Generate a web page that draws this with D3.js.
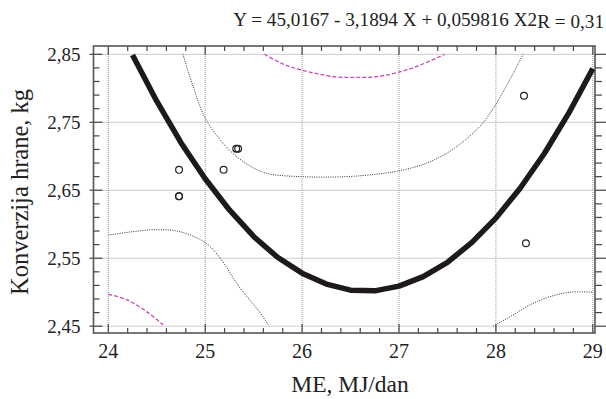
<!DOCTYPE html>
<html><head><meta charset="utf-8">
<script src="https://cdn.jsdelivr.net/npm/d3@7"></script>
</head>
<body style="margin:0"><svg id="c" width="606" height="399"></svg>
<script>
// ---- data ----
const xTicks = [24, 25, 26, 27, 28, 29];
const yTicks = [2.45, 2.55, 2.65, 2.75, 2.85];
const yTickLabels = ["2,45", "2,55", "2,65", "2,75", "2,85"];
const titleMain = "Y = 45,0167 - 3,1894 X + 0,059816 X2";
const titleR = "R = 0,31";
const xLabel = "ME, MJ/dan";
const yLabel = "Konverzija hrane, kg";

const pointsX = [24.73, 24.73, 24.73, 25.19, 25.32, 25.34, 28.29, 28.31];
const pointsY = [2.680, 2.641, 2.641, 2.680, 2.711, 2.711, 2.789, 2.572];

const fitX = [24.25, 24.5, 24.75, 25, 25.25, 25.5, 25.75, 26, 26.25, 26.5, 26.75, 27, 27.25, 27.5, 27.75, 28, 28.25, 28.5, 28.75, 29];
const fitY = [2.849, 2.781, 2.720, 2.667, 2.621, 2.582, 2.551, 2.528, 2.512, 2.503, 2.502, 2.509, 2.523, 2.544, 2.573, 2.609, 2.653, 2.704, 2.763, 2.829];

const confUpX = [24.77, 24.87, 25.0, 25.15, 25.28, 25.46, 25.63, 25.99, 26.45, 26.79, 26.98, 27.27, 27.51, 27.7, 27.86, 27.98, 28.16, 28.28];
const confUpY = [2.850, 2.805, 2.756, 2.725, 2.705, 2.686, 2.675, 2.670, 2.670, 2.674, 2.678, 2.689, 2.706, 2.726, 2.748, 2.772, 2.817, 2.850];
const confLoLeftX = [24.0, 24.25, 24.5, 24.74, 25.0, 25.15, 25.35, 25.56, 25.66];
const confLoLeftY = [2.584, 2.589, 2.592, 2.589, 2.573, 2.551, 2.508, 2.471, 2.450];
const confLoRightX = [27.97, 28.16, 28.36, 28.57, 28.77, 29.0];
const confLoRightY = [2.450, 2.465, 2.482, 2.494, 2.500, 2.500];

const predUpX = [25.61, 25.8, 25.99, 26.33, 26.55, 26.76, 26.98, 27.2, 27.47];
const predUpY = [2.850, 2.836, 2.827, 2.817, 2.816, 2.817, 2.823, 2.833, 2.850];
const predLoX = [24.0, 24.19, 24.41, 24.565];
const predLoY = [2.497, 2.489, 2.470, 2.452];

// ---- layout ----
const FONT = '"Liberation Serif"';
const svg = d3.select("#c");
const x = d3.scaleLinear().domain([24, 29]).range([108.3, 592.8]);
const y = d3.scaleLinear().domain([2.45, 2.85]).range([326.2, 54.3]);
const fL = 93.5, fR = 595, fT = 46, fB = 333;

// grid
const g = svg.append("g");
g.selectAll(".gx").data(xTicks).join("line")
  .attr("x1", d => x(d)).attr("x2", d => x(d)).attr("y1", fT).attr("y2", fB)
  .attr("stroke", "#999").attr("stroke-width", 1).attr("stroke-dasharray", "1,1");
g.selectAll(".gy").data(yTicks).join("line")
  .attr("x1", fL).attr("x2", fR).attr("y1", d => y(d)).attr("y2", d => y(d))
  .attr("stroke", "#999").attr("stroke-width", 1).attr("stroke-dasharray", "1,1");

// minor ticks
const xMinor = d3.range(0, 26).map(i => 24 + i * 0.2);
const yMinor = d3.range(0, 21).map(i => 2.45 + i * 0.02);
const tk = svg.append("g").attr("stroke", "#444").attr("stroke-width", 1.2);
xMinor.forEach(v => {
  const major = Math.abs(v - Math.round(v)) < 1e-6;
  tk.append("line").attr("x1", x(v)).attr("x2", x(v)).attr("y1", fB).attr("y2", fB - (major ? 9 : 5));
  tk.append("line").attr("x1", x(v)).attr("x2", x(v)).attr("y1", fT).attr("y2", fT + (major ? 9 : 5));
});
yMinor.forEach(v => {
  const major = Math.abs(v * 10 - 0.5 - Math.round(v * 10 - 0.5)) < 1e-6;
  tk.append("line").attr("x1", fL - (major ? 4 : 0)).attr("x2", fL + (major ? 9 : 6)).attr("y1", y(v)).attr("y2", y(v));
  tk.append("line").attr("x1", fR).attr("x2", fR + (major ? 11 : 7)).attr("y1", y(v)).attr("y2", y(v));
});

// frame
svg.append("rect").attr("x", fL).attr("y", fT).attr("width", fR - fL).attr("height", fB - fT)
  .attr("fill", "none").attr("stroke", "#555").attr("stroke-width", 1.6);

// tick labels
svg.append("g").selectAll("text").data(xTicks).join("text")
  .attr("x", d => x(d)).attr("y", 358).attr("text-anchor", "middle")
  .style("font-family", FONT).attr("font-size", 20).attr("fill", "#222").text(d => d);
svg.append("g").selectAll("text").data(yTicks).join("text")
  .attr("x", 80.5).attr("y", d => y(d) + 6.5).attr("text-anchor", "end")
  .style("font-family", FONT).attr("font-size", 19).attr("fill", "#222").text((d, i) => yTickLabels[i]);

// axis titles
svg.append("text").attr("x", 350).attr("y", 392).attr("text-anchor", "middle")
  .style("font-family", FONT).attr("font-size", 23.5).attr("fill", "#222").text(xLabel);
svg.append("text").attr("transform", "translate(28,192) rotate(-90)").attr("text-anchor", "middle")
  .style("font-family", FONT).attr("font-size", 24.5).attr("fill", "#222").text(yLabel);

// title
const t = svg.append("text").attr("x", 604).attr("y", 26).attr("text-anchor", "end")
  .style("font-family", FONT).attr("font-size", 19.2).attr("fill", "#222");
t.append("tspan").text(titleMain);
t.append("tspan").attr("dy", 2).text(titleR);

// lines
const line = d3.line().x(d => x(d[0])).y(d => y(d[1]));
const smooth = d3.line().curve(d3.curveCatmullRom.alpha(0.5)).x(d => x(d[0])).y(d => y(d[1]));
const zip = (a, b) => a.map((v, i) => [v, b[i]]);
[[predUpX, predUpY], [predLoX, predLoY]].forEach(([a, b]) => {
  svg.append("path").datum(zip(a, b)).attr("d", smooth).attr("fill", "none")
    .attr("stroke", "#c64ab6").attr("stroke-width", 1.3).attr("stroke-dasharray", "4,2");
});
[[confUpX, confUpY], [confLoLeftX, confLoLeftY], [confLoRightX, confLoRightY]].forEach(([a, b]) => {
  svg.append("path").datum(zip(a, b)).attr("d", smooth)
    .attr("fill", "none").attr("stroke", "#333").attr("stroke-width", 1).attr("stroke-dasharray", "1,1.3");
});
svg.append("path").datum(zip(fitX, fitY)).attr("d", line).attr("fill", "none")
  .attr("stroke", "#1e1a1a").attr("stroke-width", 5.5).attr("stroke-linejoin", "round");

// points
svg.append("g").selectAll("circle").data(zip(pointsX, pointsY)).join("circle")
  .attr("cx", d => x(d[0])).attr("cy", d => y(d[1])).attr("r", 3.4)
  .attr("fill", "none").attr("stroke", "#222").attr("stroke-width", 1.2);
</script></body></html>
